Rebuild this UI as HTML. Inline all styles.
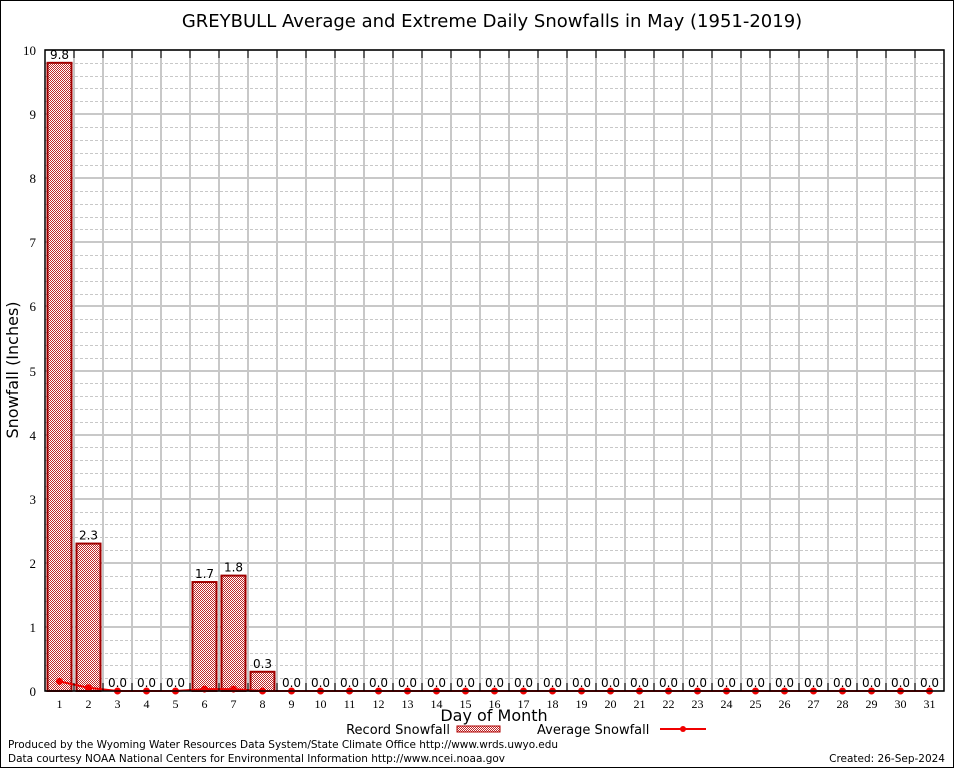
<!DOCTYPE html>
<html><head><meta charset="utf-8"><style>
html,body{margin:0;padding:0;background:#fff}
svg{display:block;font-family:"DejaVu Sans","Liberation Sans",sans-serif}
</style></head><body>
<svg width="954" height="768" viewBox="0 0 954 768">
<defs><pattern id="hatch" width="2" height="2" patternUnits="userSpaceOnUse"><rect width="2" height="2" fill="#fff"/><rect width="1" height="1" fill="#c02828"/><rect x="1" y="1" width="1" height="1" fill="#c02828"/></pattern></defs>
<rect x="0.5" y="0.5" width="953" height="767" fill="#fff" stroke="#000"/>
<text x="492" y="27" font-size="18" text-anchor="middle">GREYBULL Average and Extreme Daily Snowfalls in May (1951-2019)</text>
<g id="grid"></g><g id="bars"></g><g id="avg"></g><g id="axes"></g>
<text x="18" y="370" font-size="16" text-anchor="middle" transform="rotate(-90 18 370)">Snowfall (Inches)</text>
<text x="494" y="721" font-size="16" text-anchor="middle">Day of Month</text>
<g>
<text x="450" y="734" font-size="13" text-anchor="end">Record Snowfall</text>
<rect x="457" y="726" width="43" height="6" fill="url(#hatch)" stroke="#b00000"/>
<text x="537" y="734" font-size="13">Average Snowfall</text>
<line x1="660" y1="729" x2="706" y2="729" stroke="#f00000" stroke-width="2"/>
<circle cx="683" cy="729" r="3" fill="#f00000"/>
</g>
<text x="8" y="748" font-size="10.5" textLength="550">Produced by the Wyoming Water Resources Data System/State Climate Office http://www.wrds.uwyo.edu</text>
<text x="8" y="762" font-size="10.5" textLength="497">Data courtesy NOAA National Centers for Environmental Information http://www.ncei.noaa.gov</text>
<text x="945" y="762" font-size="10.5" text-anchor="end">Created: 26-Sep-2024</text>
</svg>
<script>
const days = Array.from({length:31},(_,i)=>String(i+1));
const recordSnow = [9.8,2.3,0,0,0,1.7,1.8,0.3,0,0,0,0,0,0,0,0,0,0,0,0,0,0,0,0,0,0,0,0,0,0,0];
const avgSnow = [0.15,0.05,0,0,0,0.03,0.03,0,0,0,0,0,0,0,0,0,0,0,0,0,0,0,0,0,0,0,0,0,0,0,0];
const yTicks = [0,1,2,3,4,5,6,7,8,9,10];
const L=45,R=944,T=50,B=691,yMax=10;
const NS='http://www.w3.org/2000/svg';
const cw=(R-L)/days.length;
const x=i=>L+cw*(i+0.5);
const y=v=>B-(v/yMax)*(B-T);
function mk(t,a,p){const e=document.createElementNS(NS,t);for(const k in a)e.setAttribute(k,a[k]);p.appendChild(e);return e;}
const grid=document.getElementById('grid'),bars=document.getElementById('bars'),avg=document.getElementById('avg'),axes=document.getElementById('axes');
for(let v=0;v<yMax;v+=0.2){const yy=Math.round(y(v))+0.5;if(Math.abs(v-Math.round(v))<1e-6)continue;
 const l=mk('line',{x1:L,x2:R,y1:yy,y2:yy,stroke:'#c8c8c8','stroke-dasharray':'3,2'},grid);
 
 }
yTicks.forEach(v=>{const yy=Math.round(y(v));
 const l=mk('line',{x1:L,x2:R,y1:yy,y2:yy,stroke:'#c8c8c8','stroke-width':2},grid);
 
 
 const t=mk('text',{x:36,y:yy+5,'font-size':13,'text-anchor':'end','font-family':'Liberation Serif, serif'},axes);t.textContent=v;
 
 });
for(let i=1;i<days.length;i++){const xx=Math.round(L+cw*i);
 const l=mk('line',{x1:xx,x2:xx,y1:T,y2:B,stroke:'#c8c8c8','stroke-width':2},grid);
 
 
 const tk=mk('path',{d:`M${xx} ${T}v8M${xx} ${B}v-8`,stroke:'#000'},axes);
 
 }
days.forEach((d,i)=>{const v=recordSnow[i];
 if(v>0){const r=mk('rect',{x:x(i)-12,y:y(v),width:24,height:B-y(v),fill:'url(#hatch)',stroke:'#a00000','stroke-width':2},bars);
  
  }
 const t=mk('text',{x:x(i),y:y(v)-4,'font-size':12,'text-anchor':'middle'},bars);t.textContent=v.toFixed(1);
 
 
 const xl=mk('text',{x:x(i),y:B+17,'font-size':12,'text-anchor':'middle','font-family':'Liberation Serif, serif'},axes);xl.textContent=d;
 
 });
const pl=mk('polyline',{points:avgSnow.map((v,i)=>x(i)+','+y(v)).join(' '),fill:'none',stroke:'#f00000','stroke-width':2},avg);


avgSnow.forEach((v,i)=>{const c=mk('circle',{cx:x(i),cy:y(v),r:3.5,fill:'#f00000'},avg);
 
 });
const f=mk('rect',{x:L,y:T,width:R-L,height:B-T,fill:'none',stroke:'#000','stroke-width':1.5},axes);


</script>
</body></html>
